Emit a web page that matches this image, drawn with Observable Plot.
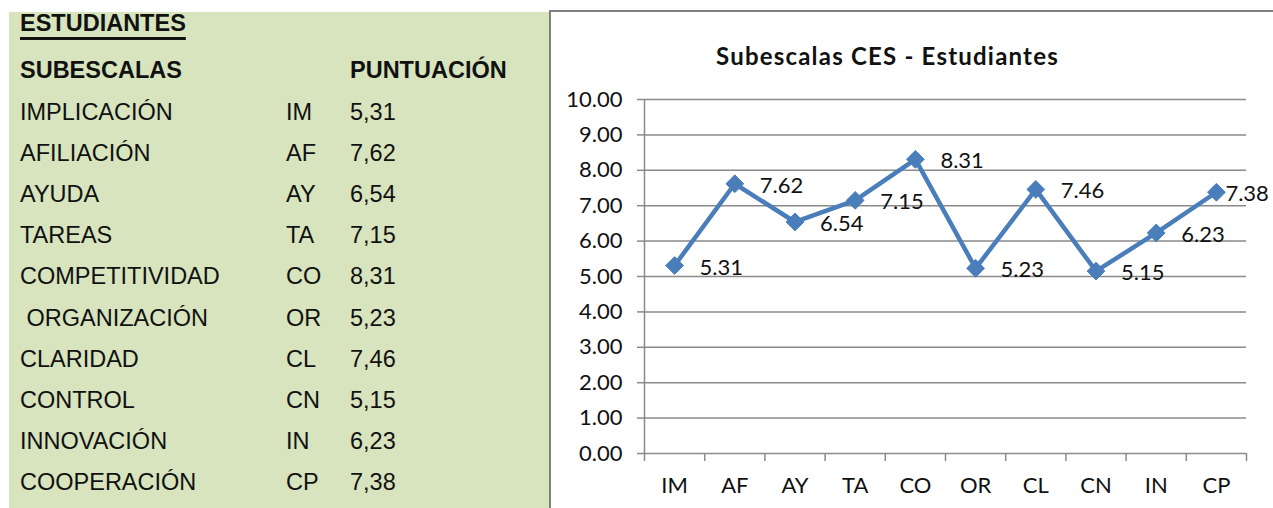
<!DOCTYPE html>
<html>
<head>
<meta charset="utf-8">
<script src="https://cdn.jsdelivr.net/npm/d3@7"></script>
<script src="https://cdn.jsdelivr.net/npm/@observablehq/plot@0.6"></script>
<style>
  html, body { margin: 0; padding: 0; }
  body { width: 1273px; height: 508px; overflow: hidden; background: #fff; position: relative; }
  #panel { position: absolute; left: 9px; top: 12px; width: 541px; height: 496px; background: #D7E4BD; }
  .cell { position: absolute; height: 41.2px; line-height: 41.2px; font-family: "Liberation Sans", Arial, sans-serif; font-size: 23.5px; color: #111; white-space: pre; }
  .b { font-weight: bold; }
  #frame { position: absolute; left: 549px; top: 10px; width: 800px; height: 600px; border: 2px solid #7f7f7f; background: #fff; }
  #title { position: absolute; left: 716px; top: 43.5px; font-family: Lato, sans-serif; font-weight: bold; font-size: 24px; line-height: 24px; letter-spacing: 1.2px; color: #111; white-space: nowrap; }
  #chart { position: absolute; left: 550px; top: 12px; }
</style>
</head>
<body>
<div id="panel"></div>
<div id="frame"></div>
<div id="title"></div>
<div id="chart"></div>
<script>
// ---- data ----
const tableTitle = "ESTUDIANTES";
const headerLabels = ["SUBESCALAS", "PUNTUACIÓN"];
const subescalas = ["IMPLICACIÓN", "AFILIACIÓN", "AYUDA", "TAREAS", "COMPETITIVIDAD", " ORGANIZACIÓN", "CLARIDAD", "CONTROL", "INNOVACIÓN", "COOPERACIÓN"];
const codes = ["IM", "AF", "AY", "TA", "CO", "OR", "CL", "CN", "IN", "CP"];
const values = [5.31, 7.62, 6.54, 7.15, 8.31, 5.23, 7.46, 5.15, 6.23, 7.38];
const yTicks = [0, 1, 2, 3, 4, 5, 6, 7, 8, 9, 10];
const chartTitle = "Subescalas CES - Estudiantes";

// ---- left table ----
const rowH = 41.2;
function cell(text, x, cy, bold, underline) {
  const d = document.createElement("div");
  d.className = "cell" + (bold ? " b" : "");
  d.style.left = x + "px";
  d.style.top = (cy - rowH / 2) + "px";
  if (underline) { d.style.textDecoration = "underline"; d.style.textDecorationThickness = "2.5px"; d.style.textUnderlineOffset = "6px"; }
  d.textContent = text;
  document.body.appendChild(d);
}
cell(tableTitle, 20, 24, true, true);
cell(headerLabels[0], 20, 71, true);
cell(headerLabels[1], 350, 71, true);
subescalas.forEach((s, i) => {
  const cy = 71 + rowH * (i + 1);
  cell(s, 20, cy);
  cell(codes[i], 286, cy);
  cell(values[i].toFixed(2).replace(".", ","), 350, cy);
});
document.getElementById("title").textContent = chartTitle;

// ---- chart ----
const n = codes.length;
const idx = d3.range(n);
const gray = "#8a8a8a";
const blue = "#4A7EBB";
const fx = i => i + 0.5;
const fy = i => values[i];

const chart = Plot.plot({
  width: 723,
  height: 496,
  marginLeft: 94,
  marginRight: 27,
  marginTop: 87,
  marginBottom: 55,
  style: { fontFamily: "Lato, sans-serif", fontSize: "22px", color: "#111", background: "transparent", overflow: "visible" },
  x: { type: "linear", domain: [0, n] },
  y: { domain: [0, 10] },
  marks: [
    Plot.gridY({ ticks: yTicks.slice(1), stroke: gray, strokeOpacity: 1, strokeWidth: 1.5 }),
    Plot.ruleX([0], { stroke: gray, strokeWidth: 1.5 }),
    Plot.ruleY([0], { stroke: gray, strokeWidth: 1.5 }),
    Plot.axisY({ ticks: yTicks, tickFormat: d3.format(".2f"), tickSize: 7, tickPadding: 15, stroke: gray, strokeWidth: 1.5, fill: "#111", label: null }),
    Plot.axisX({ ticks: d3.range(n + 1), tickFormat: () => "", tickSize: 8, stroke: gray, strokeWidth: 1.5, label: null }),
    Plot.axisX({ ticks: idx.map(fx), tickFormat: v => codes[Math.floor(v)], tickSize: 0, tickPadding: 24, fill: "#111", label: null }),
    Plot.line(idx, { x: fx, y: fy, stroke: blue, strokeWidth: 4.5 }),
    Plot.dot(idx, { x: fx, y: fy, symbol: "diamond2", r: 8, fill: blue, stroke: blue, strokeWidth: 1 }),
    Plot.text(idx.slice(0, -1), { x: fx, y: fy, text: i => values[i].toFixed(2), textAnchor: "start", dx: 25, dy: 2, fill: "#111" }),
    Plot.text(idx.slice(-1), { x: fx, y: fy, text: i => values[i].toFixed(2), textAnchor: "start", dx: 9, dy: 2, fill: "#111" })
  ]
});
document.getElementById("chart").appendChild(chart);
</script>
</body>
</html>
